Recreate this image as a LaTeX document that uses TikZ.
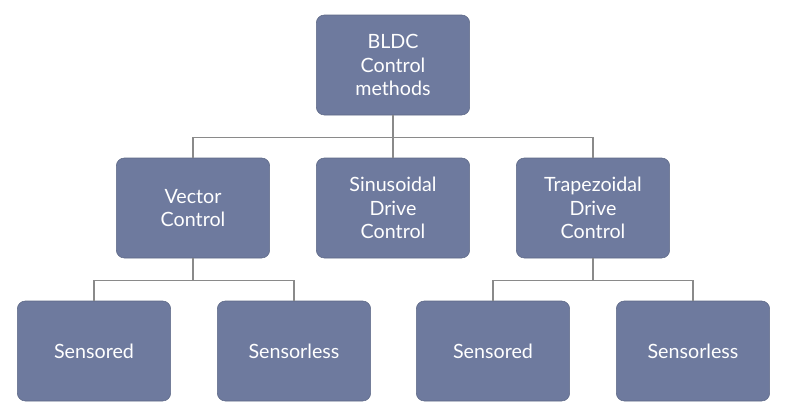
\documentclass[tikz,border=0pt]{standalone}
\usepackage{fontspec}
\setmainfont{Lato}
\usetikzlibrary{positioning}
\definecolor{boxfill}{HTML}{6E7A9E}
\definecolor{linegray}{HTML}{8A8A8A}
\begin{document}
\begin{tikzpicture}[%
    box/.style={%
        draw=boxfill!85!black,
        fill=boxfill,
        rounded corners=0.2cm,
        minimum width=3.78cm,
        minimum height=2.5cm,
        text width=3.6cm,
        align=center,
        text=white,
        font=\fontsize{14}{16.5}\selectfont,
    },
    link/.style={draw=linegray, line width=0.8pt}
]
\useasboundingbox (0,0) rectangle (20,-10.325);
    \node[box] (bldc) at (9.825,-1.625) {BLDC\\Control\\methods};
    \node[box] (vc) at (4.825,-5.2) {Vector\\Control};
    \node[box] (sdc) at (9.825,-5.2) {Sinusoidal\\Drive\\Control};
    \node[box] (tdc) at (14.825,-5.2) {Trapezoidal\\Drive\\Control};
    \node[box] (vs) at (2.35,-8.775) {Sensored};
    \node[box] (vsl) at (7.35,-8.775) {Sensorless};
    \node[box] (ts) at (12.325,-8.775) {Sensored};
    \node[box] (tsl) at (17.325,-8.775) {Sensorless};
    % tree connectors
    \draw[link] (bldc.south) -- ++(0,-0.55) coordinate (j0);
    \foreach \n in {vc,sdc,tdc}{%
        \draw[link] (j0) -| (\n.north);
    }
    \draw[link] (vc.south) -- ++(0,-0.55) coordinate (j1);
    \draw[link] (j1) -| (vs.north);
    \draw[link] (j1) -| (vsl.north);
    \draw[link] (tdc.south) -- ++(0,-0.55) coordinate (j2);
    \draw[link] (j2) -| (ts.north);
    \draw[link] (j2) -| (tsl.north);
\end{tikzpicture}
\end{document}
